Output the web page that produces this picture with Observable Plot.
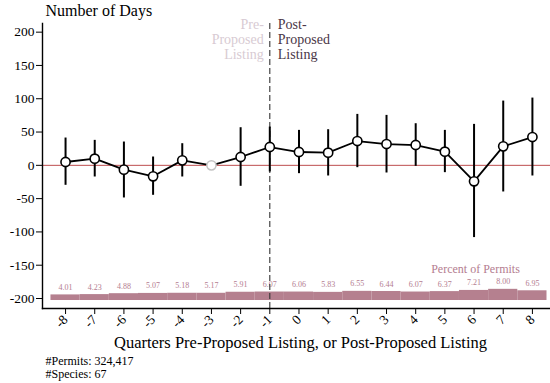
<!DOCTYPE html>
<html>
<head>
<meta charset="utf-8">
<script src="https://cdn.jsdelivr.net/npm/d3@7"></script>
<script src="https://cdn.jsdelivr.net/npm/@observablehq/plot@0.6"></script>
<style>
  html, body { margin: 0; padding: 0; background: #fff; font-family: "Liberation Serif", serif; }
</style>
</head>
<body>
<div id="chart"></div>
<script>
// Event-study estimates: days relative to the reference quarter (-3)
const quarters = [-8, -7, -6, -5, -4, -3, -2, -1, 0, 1, 2, 3, 4, 5, 6, 7, 8];
const estimate = [5, 10, -6.5, -16.5, 7.5, 0, 12.5, 27.5, 20, 19, 36.5, 32, 30.5, 20.5, -24, 28.5, 42.5];
const ciLow    = [-30, -17.5, -49, -45, -17.5, null, -31.5, -10, -12.5, -16, -3.5, -11.5, -1.5, -11, -108.5, -40, -16];
const ciHigh   = [41, 37.5, 35, 12.5, 32.5, null, 56.5, 57.5, 52.5, 53.5, 76.5, 75, 62.5, 52.5, 61.5, 96.5, 101];
const percentPermits = [4.01, 4.23, 4.88, 5.07, 5.18, 5.17, 5.91, 6.07, 6.06, 5.83, 6.55, 6.44, 6.07, 6.37, 7.21, 8.00, 6.95];
const yTicks = [-200, -150, -100, -50, 0, 50, 100, 150, 200];
const referenceQuarter = -3;
const listingQuarter = -1;
const permitCount = "324,417";
const speciesCount = "67";

const rows = quarters.map((q, i) => ({
  q, est: estimate[i], lo: ciLow[i], hi: ciHigh[i], pct: percentPermits[i]
}));

// Percent-of-permits strip sits along the bottom of the panel
const barBase = -203;
const barScale = 2.1;
const barTop = d => barBase + d.pct * barScale;

const mauve = "#b5808f";
const serif = "Liberation Serif";

const chart = Plot.plot({
  width: 550,
  height: 383,
  marginTop: 23,
  marginBottom: 75,
  marginLeft: 42,
  marginRight: 0,
  style: { fontFamily: serif, fontSize: "13px" },
  x: { domain: [-8.79, 8.62], ticks: quarters },
  y: { domain: [-215, 213] },
  marks: [
    // permit share strip
    Plot.rect(rows, {
      x1: d => d.q - 0.5, x2: d => d.q + 0.5,
      y1: barBase, y2: barTop, fill: mauve
    }),
    Plot.text(rows, {
      x: "q", y: barTop, text: d => d.pct.toFixed(2),
      lineAnchor: "bottom", dy: -5, fontSize: 8, fill: "#b47d90"
    }),
    Plot.text(["Percent of Permits"], {
      x: 6.05, y: barBase + 8 * barScale, lineAnchor: "bottom", dy: -16,
      fontSize: 12, fill: "#b47d90"
    }),
    // zero reference
    Plot.ruleY([0], { stroke: "#bd4d4f", strokeWidth: 1 }),
    // proposed listing marker
    Plot.ruleX([listingQuarter], { stroke: "#333", strokeWidth: 1.1, strokeDasharray: "6,3" }),
    Plot.text(["Pre-\nProposed\nListing"], {
      x: listingQuarter, y: 190, textAnchor: "end", dx: -6,
      lineAnchor: "middle", lineHeight: 1.08, fontSize: 14, fill: "#d8cbd3"
    }),
    Plot.text(["Post-\nProposed\nListing"], {
      x: listingQuarter, y: 190, textAnchor: "start", dx: 8,
      lineAnchor: "middle", lineHeight: 1.08, fontSize: 14, fill: "#4a3646"
    }),
    // confidence intervals
    Plot.ruleX(rows.filter(d => d.lo != null), {
      x: "q", y1: "lo", y2: "hi", stroke: "#000", strokeWidth: 2
    }),
    Plot.line(rows, { x: "q", y: "est", stroke: "#000", strokeWidth: 1.8 }),
    Plot.dot(rows.filter(d => d.q !== referenceQuarter), {
      x: "q", y: "est", r: 4.6, fill: "#fff", stroke: "#000", strokeWidth: 1.6
    }),
    Plot.dot(rows.filter(d => d.q === referenceQuarter), {
      x: "q", y: "est", r: 4.6, fill: "#fff", stroke: "#c4c4c4", strokeWidth: 1.6
    }),
    // axes
    Plot.axisY({
      ticks: yTicks, tickSize: 6, tickPadding: 2, label: null,
      fontSize: 13.5, tickFormat: d => String(d)
    }),
    Plot.axisX({
      ticks: quarters, tickSize: 6, tickPadding: 3, tickRotate: -45,
      label: null, fontSize: 13.5, tickFormat: d => String(d)
    }),
    Plot.frame({ anchor: "left", strokeWidth: 1.4 }),
    Plot.frame({ anchor: "bottom", strokeWidth: 1.4 }),
    // titles and notes
    Plot.text(["Number of Days"], {
      frameAnchor: "top-left", textAnchor: "start", lineAnchor: "bottom",
      dx: 3, dy: -8, fontSize: 16, fill: "#000"
    }),
    Plot.text(["Quarters Pre-Proposed Listing, or Post-Proposed Listing"], {
      frameAnchor: "bottom", lineAnchor: "bottom", dx: 4, dy: 39,
      fontSize: 16.5, fill: "#000"
    }),
    Plot.text([`#Permits: ${permitCount}\n#Species: ${speciesCount}`], {
      frameAnchor: "bottom-left", textAnchor: "start", lineAnchor: "top",
      dx: 3, dy: 48, lineHeight: 1.05, fontSize: 12, fill: "#000"
    })
  ]
});

document.getElementById("chart").appendChild(chart);
</script>
</body>
</html>
